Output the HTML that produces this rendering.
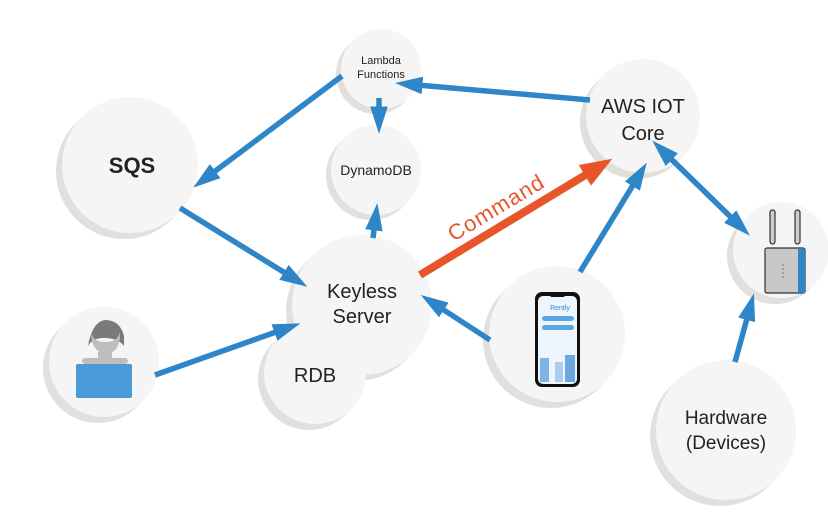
<!DOCTYPE html>
<html><head><meta charset="utf-8"><style>
html,body{margin:0;padding:0;background:#fff;}
svg{display:block;}
text{font-family:"Liberation Sans",sans-serif;fill:#222;text-anchor:middle;}
</style></head><body>
<svg width="828" height="518" viewBox="0 0 828 518" xmlns="http://www.w3.org/2000/svg">
<defs>
<marker id="ah" markerWidth="5" markerHeight="3.2" refX="3" refY="1.6" orient="auto" markerUnits="strokeWidth">
<path d="M0,0 L5,1.6 L0,3.2 z" fill="#2e86c8"/></marker>
<marker id="ahs" markerWidth="5" markerHeight="3.2" refX="2" refY="1.6" orient="auto-start-reverse" markerUnits="strokeWidth">
<path d="M0,0 L5,1.6 L0,3.2 z" fill="#2e86c8"/></marker>
<marker id="ao" markerWidth="4" markerHeight="3" refX="2.5" refY="1.5" orient="auto" markerUnits="strokeWidth">
<path d="M0,0 L4,1.5 L0,3 z" fill="#e8552a"/></marker>
</defs>
<g fill="#e2dfdc">
<circle cx="376" cy="74" r="40"/>
<circle cx="371" cy="175" r="45"/>
<circle cx="124" cy="171" r="68"/>
<circle cx="637" cy="122" r="57"/>
<circle cx="356" cy="311" r="70"/>
<circle cx="98" cy="368" r="55"/>
<circle cx="551" cy="340" r="68"/>
<circle cx="775" cy="256" r="48"/>
<circle cx="720" cy="436" r="70"/>
</g>
<g fill="#f5f5f5">
<circle cx="381" cy="69" r="40"/>
<circle cx="376" cy="170" r="45"/>
<circle cx="130" cy="165" r="68"/>
<circle cx="643" cy="116" r="57"/>
<circle cx="362" cy="305" r="70"/>
<circle cx="104" cy="362" r="55"/>
<circle cx="557" cy="334" r="68"/>
<circle cx="781" cy="250" r="48"/>
<circle cx="726" cy="430" r="70"/>
</g>
<circle cx="309" cy="379" r="51" fill="#e2dfdc"/>
<circle cx="315" cy="373" r="51" fill="#f5f5f5"/>
<g stroke="#2e86c8" stroke-width="5.5" fill="none">
<line x1="590" y1="100" x2="406" y2="84" marker-end="url(#ah)"/>
<line x1="342" y1="76" x2="202" y2="181" marker-end="url(#ah)"/>
<line x1="379" y1="98" x2="379" y2="123" marker-end="url(#ah)"/>
<line x1="180" y1="208" x2="298" y2="281" marker-end="url(#ah)"/>
<line x1="373" y1="238" x2="376" y2="214" marker-end="url(#ah)"/>
<line x1="155" y1="375" x2="290" y2="327" marker-end="url(#ah)"/>
<line x1="490" y1="340" x2="430" y2="301" marker-end="url(#ah)"/>
<line x1="580" y1="272" x2="641" y2="172" marker-end="url(#ah)"/>
<line x1="664" y1="152" x2="742" y2="228" marker-start="url(#ahs)" marker-end="url(#ah)"/>
<line x1="735" y1="362" x2="751" y2="304" marker-end="url(#ah)"/>
</g>
<line x1="420" y1="275" x2="602" y2="165" stroke="#e8552a" stroke-width="8" marker-end="url(#ao)"/>
<text x="500" y="214" transform="rotate(-31 500 214)" style="fill:#e8552a;font-size:22px;letter-spacing:1px">Command</text>
<text x="381" y="64" style="font-size:11px">Lambda</text>
<text x="381" y="78" style="font-size:11px">Functions</text>
<text x="376" y="175" style="font-size:14px">DynamoDB</text>
<text x="132" y="173" style="font-size:22px;font-weight:bold">SQS</text>
<text x="643" y="113" style="font-size:20px">AWS IOT</text>
<text x="643" y="140" style="font-size:20px">Core</text>
<text x="362" y="298" style="font-size:20px">Keyless</text>
<text x="362" y="323" style="font-size:20px">Server</text>
<text x="315" y="382" style="font-size:20px">RDB</text>
<text x="726" y="424" style="font-size:19px">Hardware</text>
<text x="726" y="449" style="font-size:19px">(Devices)</text>
<g>
<path d="M88,346 Q92,322 105,320 Q120,320 124,336 L124,346 Q118,338 104,338 Q92,338 88,346z" fill="#7a7a7a"/>
<path d="M91,332 Q91,352 106,354 Q121,352 120,332 Q118,342 105,342 Q93,342 91,332z" fill="#bdbdbd"/>
<rect x="98" y="352" width="14" height="8" fill="#bdbdbd"/>
<rect x="82" y="358" width="46" height="6" rx="3" fill="#bdbdbd"/>
<rect x="76" y="364" width="56" height="34" rx="2" fill="#4a9ad8"/>
</g>
<g>
<rect x="535" y="292" width="45" height="95" rx="7" fill="#111"/>
<rect x="538" y="296" width="39" height="88" rx="5" fill="#eef5fc"/>
<rect x="550" y="293" width="15" height="4" rx="2" fill="#111"/>
<text x="560" y="310" style="font-size:7px;fill:#2e86c8">Rently</text>
<rect x="542" y="316" width="32" height="5" rx="2.5" fill="#5aa6e0"/>
<rect x="542" y="325" width="32" height="5" rx="2.5" fill="#5aa6e0"/>
<rect x="540" y="358" width="9" height="24" fill="#7db4e6"/>
<rect x="555" y="362" width="8" height="20" fill="#a9cdef"/>
<rect x="565" y="355" width="10" height="27" fill="#6aa8e2"/>
</g>
<g>
<rect x="770" y="210" width="5" height="34" rx="2.5" fill="#ccc" stroke="#333" stroke-width="1.2"/>
<rect x="795" y="210" width="5" height="34" rx="2.5" fill="#ccc" stroke="#333" stroke-width="1.2"/>
<rect x="765" y="248" width="40" height="45" rx="2" fill="#c8c8c8" stroke="#333" stroke-width="1.2"/>
<rect x="798" y="249" width="7" height="44" fill="#2e86c8"/>
<line x1="783" y1="264" x2="783" y2="278" stroke="#2e86c8" stroke-width="1" stroke-dasharray="2,2"/>
</g>
</svg>
</body></html>
